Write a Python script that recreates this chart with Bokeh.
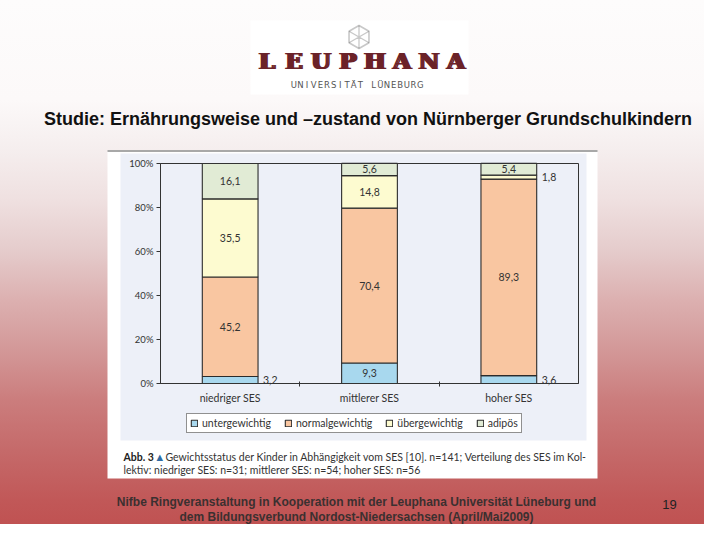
import numpy as np
from bokeh.plotting import figure
from bokeh.models import (ColumnDataSource, Range1d, FixedTicker, PrintfTickFormatter, LinearAxis,
                          Legend, LegendItem, Label, BoxAnnotation, PolyAnnotation)
from bokeh.core.properties import value
from bokeh.embed import file_html
from bokeh.resources import INLINE

# ---------------- data ----------------
categories = ["niedriger SES", "mittlerer SES", "hoher SES"]
series_labels = ["untergewichtig", "normalgewichtig", "übergewichtig", "adipös"]
series_keys = ["unter", "normal", "ueber", "adipoes"]
untergewichtig = [3.2, 9.3, 3.6]
normalgewichtig = [45.2, 70.4, 89.3]
uebergewichtig = [35.5, 14.8, 1.8]
adipoes = [16.1, 5.6, 5.4]
y_ticks = [0, 20, 40, 60, 80, 100]

colors = ["#a8d8ee", "#f9c6a1", "#fdfbd0", "#e1ebd5"]
CHART_FONT = "Lato"
FS = "10.5px"

# ---------------- figure (frame = whole canvas, default ranges = pixel coords) ----------------
W, H = 704, 524
p = figure(width=W, height=H, output_backend="svg", toolbar_location=None,
           x_range=Range1d(0, W), y_range=Range1d(H, 0),
           x_axis_location=None, y_axis_location=None, min_border=0)
p.border_fill_color = None
p.background_fill_color = None
p.outline_line_color = None
p.grid.visible = False
p.styles = {"background-image": (
    "linear-gradient(to bottom, #fdfcfc 0%, #fcf9f9 19%, #f5eeee 28.6%, #efe0e0 38.2%, "
    "#e5cccc 47.7%, #dcb0b0 57.3%, #d39898 66.8%, #cb7d7d 76.3%, #c56a6a 85.9%, #c15858 95.4%, #c05252 100%)")}

# chart plot area in pixels
PL, PR, PT, PB = 160, 578, 163, 383
n = len(categories)
kx = (PR - PL) / n
ky = (PB - PT) / (y_ticks[-1] - y_ticks[0])
x0 = -PL / kx
y0 = y_ticks[0] - (H - PB) / ky
p.extra_x_ranges = {"cx": Range1d(x0, x0 + W / kx)}
p.extra_y_ranges = {"cy": Range1d(y0, y0 + H / ky)}

# ---------------- decorations ----------------
def box(l, r, t, b, color):
    p.add_layout(BoxAnnotation(left=l, right=r, top=t, bottom=b, fill_color=color, fill_alpha=1,
                               line_color=None, level="underlay"))

box(250, 468, 20, 94, "#ffffff")
box(107, 597, 151, 478, "#ffffff")
box(107, 597, 149.5, 151.5, "#a8a8a8")
box(120, 586, 153, 440, "#edf0f8")

cx, cy, r = 358.5, 36.5, 11.5
angs = np.deg2rad([90, 30, -30, -90, -150, 150])
hx = list(cx + r * np.cos(angs))
hy = list(cy - r * np.sin(angs))
p.add_layout(PolyAnnotation(xs=hx, ys=hy, fill_color=None, line_color="#4a4a4a", line_width=1.6))
sx, sy = [], []
for i in range(6):
    sx += [hx[i], cx]
    sy += [hy[i], cy]
p.add_layout(PolyAnnotation(xs=sx, ys=sy, fill_color=None, line_color="#4a4a4a", line_width=1.3))


def lab(x, y, text, size, color="#222222", font="Liberation Sans", bold=False,
        align="center", baseline="middle"):
    p.add_layout(Label(x=x, y=y, text=text, text_font=font, text_font_size=size,
                       text_color=color, text_font_style="bold" if bold else "normal",
                       text_align=align, text_baseline=baseline))

logo = "LEUPHANA"
for i, ch in enumerate(logo):
    for dx in (-1.3, 0, 1.3):
        lab(266.5 + 27 * i + dx, 59.5, ch, "23px", "#6b2228", "DejaVu Serif", True)
sub = "UNIVERSITÄT LÜNEBURG"
pitch = 133 / len(sub)
for i, ch in enumerate(sub):
    if ch != " ":
        lab(290 + pitch * (i + 0.5), 84.5, ch, "8.5px", "#555555", "DejaVu Sans")

lab(367.5, 118.5, "Studie: Ernährungsweise und –zustand von Nürnberger Grundschulkindern",
    "18px", "#111111", "Liberation Sans", True)

lab(123, 456, "Abb. 3", FS, "#222222", CHART_FONT, True, "left")
lab(156, 456, "▲", "8.5px", "#2f6aa3", "DejaVu Sans", False, "left")
lab(165, 456, "Gewichtsstatus der Kinder in Abhängigkeit vom SES [10]. n=141; Verteilung des SES im Kol-",
    FS, "#333333", CHART_FONT, False, "left")
lab(123, 469, "lektiv: niedriger SES: n=31; mittlerer SES: n=54; hoher SES: n=56",
    FS, "#333333", CHART_FONT, False, "left")

lab(356, 501, "Nifbe Ringveranstaltung in Kooperation mit der Leuphana Universität Lüneburg und",
    "12px", "#3b3030", "Liberation Sans", True)
lab(356, 516.5, "dem Bildungsverbund Nordost-Niedersachsen (April/Mai2009)",
    "12px", "#3b3030", "Liberation Sans", True)
lab(669, 504, "19", "13px", "#222222", "Liberation Sans")

# ---------------- bars ----------------
xs = [i + 0.5 for i in range(n)]
vals = [untergewichtig, normalgewichtig, uebergewichtig, adipoes]
src = ColumnDataSource(dict(x=xs, **{k: v for k, v in zip(series_keys, vals)}))
rends = p.vbar_stack(series_keys, x="x", width=0.4, source=src, fill_color=colors,
                     line_color="#2b2b2b", line_width=1.1, x_range_name="cx", y_range_name="cy")

# plot-area outline
p.quad(left=[0], right=[n], bottom=[y_ticks[0]], top=[y_ticks[-1]], fill_color=None,
       line_color="#333333", line_width=1, x_range_name="cx", y_range_name="cy")

# value labels
arr = np.array(vals)            # series x categories
tops = np.cumsum(arr, axis=0)
mids = tops - arr / 2
in_x, in_y, in_t, out_x, out_y, out_t = [], [], [], [], [], []
for s in range(arr.shape[0]):
    for c in range(arr.shape[1]):
        t = f"{arr[s, c]:.1f}".replace(".", ",")
        if arr[s, c] < 4:
            out_x.append(xs[c] + 0.2); out_y.append(mids[s, c]); out_t.append(t)
        else:
            in_x.append(xs[c]); in_y.append(mids[s, c]); in_t.append(t)
p.text(x=in_x, y=in_y, text=in_t, text_align="center", text_baseline="middle",
       text_font=value(CHART_FONT), text_font_size=FS, text_color="#333333",
       x_range_name="cx", y_range_name="cy")
p.text(x=out_x, y=out_y, text=out_t, text_align="left", text_baseline="middle", x_offset=5,
       text_font=value(CHART_FONT), text_font_size=FS, text_color="#333333",
       x_range_name="cx", y_range_name="cy")

# ---------------- axes ----------------
xax = LinearAxis(x_range_name="cx", fixed_location=PB, bounds=(0, n))
xax.ticker = FixedTicker(ticks=xs, minor_ticks=[i for i in range(1, n)])
xax.major_label_overrides = {x: c for x, c in zip(xs, categories)}
xax.major_tick_line_color = None
xax.minor_tick_out = 3
xax.minor_tick_in = 2
xax.minor_tick_line_color = "#333333"
xax.axis_line_color = "#333333"
xax.major_label_text_font = CHART_FONT
xax.major_label_text_font_size = FS
xax.major_label_text_color = "#333333"
xax.major_label_standoff = 2
p.add_layout(xax, "below")

yax = LinearAxis(y_range_name="cy", fixed_location=PL, bounds=(y_ticks[0], y_ticks[-1]))
yax.ticker = FixedTicker(ticks=y_ticks)
yax.formatter = PrintfTickFormatter(format="%d%%")
yax.major_tick_out = 4
yax.major_tick_in = 0
yax.minor_tick_line_color = None
yax.axis_line_color = "#333333"
yax.major_tick_line_color = "#333333"
yax.major_label_text_font = CHART_FONT
yax.major_label_text_font_size = "9.5px"
yax.major_label_text_color = "#333333"
yax.major_label_standoff = 3
p.add_layout(yax, "left")

# ---------------- legend ----------------
legend = Legend(items=[LegendItem(label=l, renderers=[r]) for l, r in zip(series_labels, rends)],
                orientation="horizontal", location=(186, H - 433),
                label_text_font=CHART_FONT, label_text_font_size=FS, label_text_color="#333333",
                glyph_width=8, glyph_height=8, label_height=10, label_standoff=4, spacing=13,
                padding=3, margin=0, border_line_color="#222222", border_line_width=1.2,
                background_fill_color="#ffffff", background_fill_alpha=1)
p.add_layout(legend, "center")

open("out.html", "w").write(file_html(p, INLINE))
